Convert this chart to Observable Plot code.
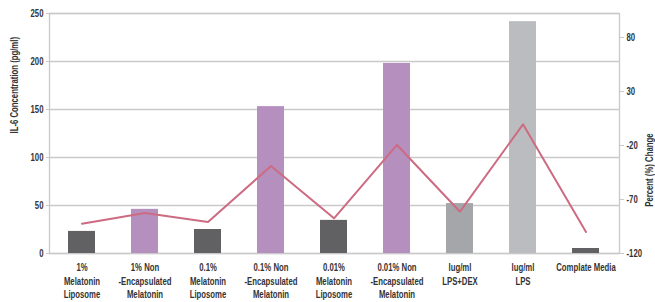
<!DOCTYPE html>
<html><head><meta charset="utf-8">
<script src="https://cdn.jsdelivr.net/npm/d3@7"></script>
<script src="https://cdn.jsdelivr.net/npm/@observablehq/plot@0.6"></script>
<style>
html,body{margin:0;padding:0;background:#fff;}
</style></head><body><div id="chart"></div>
<script>
const categories = ["1%\nMelatonin\nLiposome", "1% Non\n-Encapsulated\nMelatonin", "0.1%\nMelatonin\nLiposome", "0.1% Non\n-Encapsulated\nMelatonin", "0.01%\nMelatonin\nLiposome", "0.01% Non\n-Encapsulated\nMelatonin", "lug/ml\nLPS+DEX", "lug/ml\nLPS", "Complate Media"];
const groups = ["liposome", "non", "liposome", "non", "liposome", "non", "dex", "lps", "media"];
const il6 = [23, 46, 25, 153, 34.5, 198, 52, 241.5, 5.2];
const pctChange = [-92.4, -82.5, -90.8, -39, -87.4, -19.5, -81.3, -0.4, -100.1];
const leftTicks = [0, 50, 100, 150, 200, 250];
const rightTicks = [-120, -70, -20, 30, 80];
const leftDomain = [0, 250];
const rightDomain = [-120, 102.2];
const leftTitle = "IL-6 Concentration (pg/ml)";
const rightTitle = "Percent (%) Change";

const toLeft = d3.scaleLinear(rightDomain, leftDomain);
const data = categories.map((c, i) => ({cat: c, group: groups[i], il6: il6[i], pct: pctChange[i]}));
const font = "'Liberation Sans',Arial,sans-serif";

const chart = Plot.plot({
  width: 655, height: 302,
  marginLeft: 49, marginRight: 36, marginTop: 13, marginBottom: 49,
  style: {fontFamily: font, fontSize: "10px", color: "#333", background: "#fff", overflow: "visible"},
  x: {domain: categories, paddingInner: 0.57, paddingOuter: 0.285, label: null},
  y: {domain: leftDomain, label: null},
  color: {domain: ["liposome", "non", "dex", "lps", "media"], range: ["#616163", "#b58fbe", "#a5a6a9", "#bbbcbf", "#616163"]},
  marks: [
    Plot.ruleY(leftTicks, {stroke: "#c9c9c9", strokeWidth: 1.3}),
    Plot.frame({stroke: "#c9c9c9", strokeWidth: 1.3}),
    Plot.barY(data, {x: "cat", y: "il6", fill: "group"}),
    Plot.line(data, {x: "cat", y: d => toLeft(d.pct), stroke: "#cd6b82", strokeWidth: 2}),
    Plot.axisY(leftTicks, {anchor: "left", tickSize: 3, tickPadding: 3, stroke: "#c9c9c9", fill: "#333", fontWeight: "bold", fontSize: 10.5, label: null}),
    Plot.axisY(rightTicks.map(toLeft), {anchor: "right", tickSize: 4, tickPadding: 3, stroke: "#c9c9c9", fill: "#333", fontWeight: "bold", fontSize: 10.5,
      tickFormat: d => String(Math.round(toLeft.invert(d))), label: null}),
    Plot.text([leftTitle], {frameAnchor: "left", dx: -35, rotate: -90, fontWeight: "bold", fontSize: 10.5, fill: "#333"}),
    Plot.text([rightTitle], {frameAnchor: "right", dx: 30, rotate: -90, fontWeight: "bold", fontSize: 10.5, fill: "#333"}),
    Plot.axisX({tickSize: 0, tickPadding: 8, lineHeight: 1.3, fontWeight: "bold", fontSize: 10.5, fill: "#333", label: null, textOverflow: null})
  ]
});
// condense the text horizontally to mimic a condensed typeface
chart.querySelectorAll("text").forEach(t => {
  const tr = t.getAttribute("transform") || "";
  t.setAttribute("transform", (tr + " scale(0.74,1)").trim());
  const x = t.getAttribute("x");
  if (x) t.setAttribute("x", +x / 0.74);
});
document.getElementById("chart").appendChild(chart);
</script>
</body></html>
